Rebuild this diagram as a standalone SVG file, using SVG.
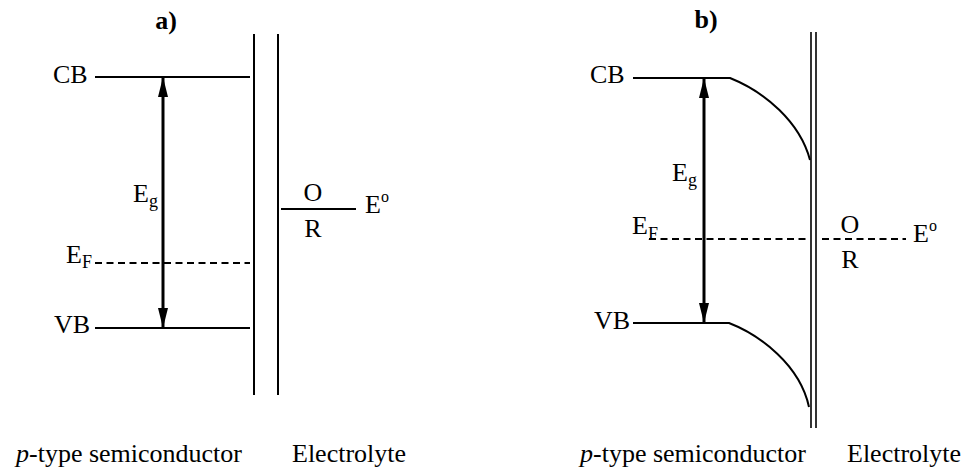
<svg xmlns="http://www.w3.org/2000/svg" width="966" height="469" viewBox="0 0 966 469">
  <defs>
    <style>
      .t { font-family: 'Liberation Serif', 'DejaVu Serif', serif; font-size: 26px; fill: #000; }
      .sub { font-size: 18px; }
      .sup { font-size: 16px; }
      .title { font-weight: bold; }
      .ln { stroke: #000; stroke-width: 2; fill: none; }
      .thin { stroke: #000; stroke-width: 1.6; fill: none; }
      .dash { stroke: #000; stroke-width: 2; stroke-dasharray: 7 4.5; fill: none; }
      .arr { stroke: #000; stroke-width: 3; fill: none; }
    </style>
    <marker id="ah" viewBox="0 0 20 10" refX="19" refY="5" markerWidth="20" markerHeight="10" markerUnits="userSpaceOnUse" orient="auto-start-reverse">
      <path d="M0,0 L20,5 L0,10 Z" fill="#000"/>
    </marker>
  </defs>

  <g id="panel-a" class="t" font-family="Liberation Serif, serif">
    <text class="title" x="166" y="29" text-anchor="middle">a)</text>
    <line class="ln" x1="254" y1="34" x2="254" y2="395"/>
    <line class="ln" x1="278" y1="34" x2="278" y2="395"/>
    <g id="a-cb">
      <text x="53" y="83">CB</text>
      <line class="ln" x1="95" y1="77" x2="250" y2="77"/>
    </g>
    <g id="a-vb">
      <text x="54" y="333">VB</text>
      <line class="ln" x1="95" y1="328" x2="250" y2="328"/>
    </g>
    <g id="a-ef">
      <text x="66" y="263">E<tspan class="sub" dy="5">F</tspan></text>
      <line class="dash" x1="95" y1="263" x2="250" y2="263"/>
    </g>
    <g id="a-eg">
      <text x="133" y="202">E<tspan class="sub" dy="5">g</tspan></text>
    </g>
    <g id="a-redox">
      <line class="ln" x1="281" y1="209" x2="356" y2="209"/>
      <text x="313" y="201" text-anchor="middle">O</text>
      <text x="313" y="237" text-anchor="middle">R</text>
      <text x="365" y="213">E<tspan class="sup" dy="-11">o</tspan></text>
    </g>
    <text x="16" y="462"><tspan font-style="italic">p</tspan>-type semiconductor</text>
    <text x="292" y="462">Electrolyte</text>
  </g>

  <g id="panel-b" class="t" font-family="Liberation Serif, serif">
    <text class="title" x="706" y="28" text-anchor="middle">b)</text>
    <line class="thin" x1="811" y1="32" x2="811" y2="428"/>
    <line class="thin" x1="816" y1="32" x2="816" y2="428"/>
    <g id="b-cb">
      <text x="590" y="83">CB</text>
      <path class="ln" d="M633,78 L730,78 C765,92 800,122 810,160"/>
    </g>
    <g id="b-vb">
      <text x="594" y="329">VB</text>
      <path class="ln" d="M633,323 L729,323 C760,335 800,365 809,407"/>
    </g>
    <g id="b-ef">
      <text x="632" y="234">E<tspan class="sub" dy="6">F</tspan></text>
      <line class="dash" x1="649" y1="239" x2="807" y2="239"/>
      <line class="dash" x1="822" y1="239" x2="906" y2="239"/>
    </g>
    <g id="b-eg">
      <text x="672" y="181">E<tspan class="sub" dy="5">g</tspan></text>
    </g>
    <g id="b-redox">
      <text x="850" y="233" text-anchor="middle">O</text>
      <text x="850" y="268" text-anchor="middle">R</text>
      <text x="913" y="242">E<tspan class="sup" dy="-11">o</tspan></text>
    </g>
    <text x="580" y="462"><tspan font-style="italic">p</tspan>-type semiconductor</text>
    <text x="847" y="462">Electrolyte</text>
  </g>

  <g id="connectors">
    <line class="arr" x1="163" y1="78" x2="163" y2="327" marker-start="url(#ah)" marker-end="url(#ah)"/>
    <line class="arr" x1="704" y1="79" x2="704" y2="322" marker-start="url(#ah)" marker-end="url(#ah)"/>
  </g>
</svg>
